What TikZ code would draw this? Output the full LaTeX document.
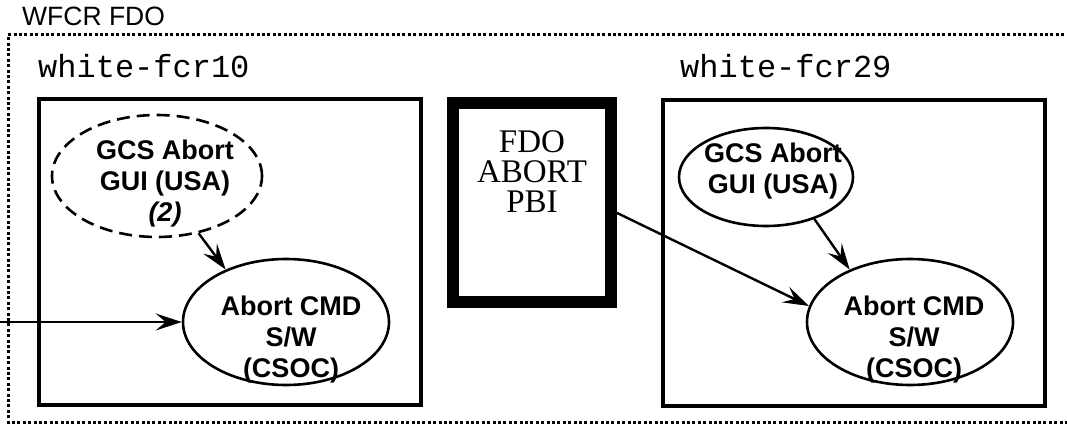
\documentclass[tikz,border=0pt]{standalone}
\usepackage{fontspec}
\setmainfont{Liberation Serif}
\setsansfont{Liberation Sans}
\setmonofont{Liberation Mono}
\usetikzlibrary{shapes.geometric,arrows.meta}
\begin{document}
\begin{tikzpicture}[x=1pt,y=-1pt,
  hostbox/.style={draw,line width=3.2pt,minimum width=382pt,minimum height=306pt,inner sep=0pt},
  pbibox/.style={draw,line width=12pt,minimum width=158pt,minimum height=199pt,inner sep=0pt},
  proc/.style={draw,ellipse,line width=2.6pt,inner sep=0pt},
  lbl/.style={font=\sffamily\bfseries\fontsize{27}{31}\selectfont,align=center,inner sep=0pt},
  pbitext/.style={font=\rmfamily\fontsize{33}{30}\selectfont,align=center,inner sep=0pt},
  host/.style={font=\ttfamily\fontsize{32}{36}\selectfont,anchor=base west,inner sep=0pt},
  frame/.style={line width=3pt,dash pattern=on 3pt off 2.4pt},
  arr/.style={line width=2.4pt,-{Stealth[length=26pt,width=17pt,inset=10pt]}}]
\useasboundingbox (0,0) rectangle (1067,425);
\draw[frame] (1075,35) -- (8,35) -- (8,422) -- (1075,422);
\node[font=\sffamily\fontsize{26.5}{30}\selectfont,anchor=base west,inner sep=0pt] (title) at (22,26) {WFCR FDO};
\node[host] (h10) at (38,78) {white-fcr10};
\node[host] (h29) at (680,78) {white-fcr29};
\node[hostbox] (boxL) at (230,252) {};
\node[hostbox] (boxR) at (854,253) {};
\node[pbibox] (fdo) at (532,202.5) {};
\node[pbitext] (fdotext) at (532,172) {FDO\\ABORT\\PBI};
\node[proc,dashed,dash pattern=on 13pt off 7pt,minimum width=210pt,minimum height=122pt] (gcsL) at (157,176) {};
\node[proc,minimum width=206pt,minimum height=126pt] (cmdL) at (286,322) {};
\node[proc,minimum width=174pt,minimum height=98pt] (gcsR) at (766,177) {};
\node[proc,minimum width=206pt,minimum height=126pt] (cmdR) at (910,322) {};
\node[lbl] (tgcsL) at (165,184) {GCS Abort\\GUI (USA)\\\textit{(2)}};
\node[lbl] (tcmdL) at (291,340) {Abort CMD\\S/W\\(CSOC)};
\node[lbl] (tgcsR) at (773,171) {GCS Abort\\GUI (USA)};
\node[lbl] (tcmdR) at (914,340) {Abort CMD\\S/W\\(CSOC)};
\coordinate (in) at (0,322);
\draw[arr] (in) -- (cmdL.west);
\draw[arr] (gcsL.-54) -- (cmdL.139);
\draw[arr] (gcsR.-41) -- (cmdR.139);
\draw[arr] (fdo.-7) -- (cmdR.171);
\end{tikzpicture}
\end{document}
